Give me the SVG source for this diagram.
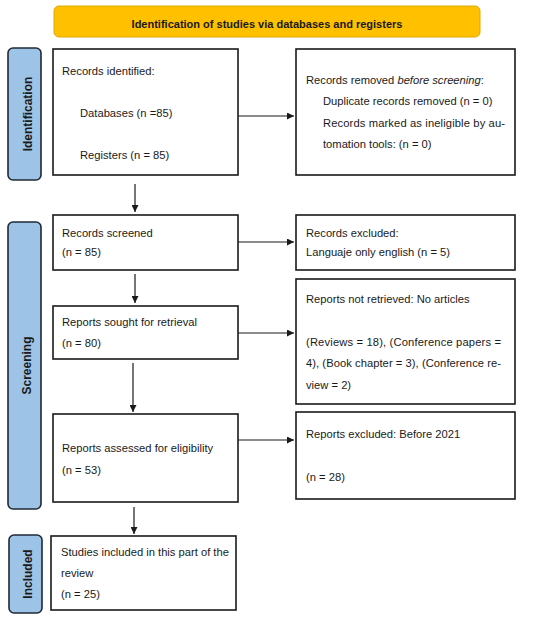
<svg xmlns="http://www.w3.org/2000/svg" width="550" height="620" viewBox="0 0 550 620">
<defs>
<style>
.box{fill:#fff;stroke:#1a1a1a;stroke-width:1.6}
.side{fill:#9DC3E6;stroke:#1f2a36;stroke-width:1.6}
.t{font-family:"Liberation Sans",Arial,sans-serif;font-size:11.2px;fill:#1a1a1a}
.b{font-family:"Liberation Sans",Arial,sans-serif;font-size:11px;font-weight:bold;fill:#1a1a1a}
.s{font-family:"Liberation Sans",Arial,sans-serif;font-size:12px;font-weight:bold;fill:#1a1a1a}
.c{stroke:#1a1a1a;stroke-width:1.2;fill:none;marker-end:url(#ah)}
</style>
<marker id="ah" viewBox="0 0 10 10" refX="10" refY="5" markerWidth="7" markerHeight="7" markerUnits="userSpaceOnUse" orient="auto">
<path d="M0,0 L10,5 L0,10 z" fill="#1a1a1a"/>
</marker>
</defs>
<rect width="550" height="620" fill="#fff"/>

<g id="banner">
<rect x="54" y="6" width="426" height="31" rx="5" fill="#FFC000" stroke="#E0A800" stroke-width="1"/>
<text class="b" x="267" y="28" text-anchor="middle">Identification of studies via databases and registers</text>
</g>

<g id="side-identification">
<rect class="side" x="8" y="48" width="33" height="132" rx="5"/>
<text class="s" transform="translate(31.5,114) rotate(-90)" text-anchor="middle">Identification</text>
</g>
<g id="side-screening">
<rect class="side" x="8" y="222" width="33" height="287" rx="5"/>
<text class="s" transform="translate(30.5,365.5) rotate(-90)" text-anchor="middle">Screening</text>
</g>
<g id="side-included">
<rect class="side" x="9" y="535" width="33" height="78" rx="5"/>
<text class="s" transform="translate(31.5,574) rotate(-90)" text-anchor="middle">Included</text>
</g>

<g id="records-identified">
<rect class="box" x="53" y="49" width="185" height="126"/>
<text class="t" x="62" y="75">Records identified:</text>
<text class="t" x="80" y="117">Databases (n =85)</text>
<text class="t" x="80" y="159">Registers (n = 85)</text>
</g>

<g id="records-removed">
<rect class="box" x="296" y="49" width="219" height="126"/>
<text class="t" x="306" y="84">Records removed <tspan font-style="italic">before screening</tspan>:</text>
<text class="t" x="323" y="105">Duplicate records removed (n = 0)</text>
<text class="t" x="323" y="127" textLength="182" lengthAdjust="spacing">Records marked as ineligible by au-</text>
<text class="t" x="323" y="148">tomation tools: (n = 0)</text>
</g>

<g id="records-screened">
<rect class="box" x="53" y="215" width="185" height="55"/>
<text class="t" x="62" y="237">Records screened</text>
<text class="t" x="62" y="256">(n = 85)</text>
</g>

<g id="records-excluded">
<rect class="box" x="296" y="215" width="219" height="55"/>
<text class="t" x="306" y="237">Records excluded:</text>
<text class="t" x="306" y="256">Languaje only english (n = 5)</text>
</g>

<g id="reports-sought">
<rect class="box" x="53" y="306" width="185" height="53"/>
<text class="t" x="62" y="326">Reports sought for retrieval</text>
<text class="t" x="62" y="347">(n = 80)</text>
</g>

<g id="reports-not-retrieved">
<rect class="box" x="296" y="279" width="219" height="125"/>
<text class="t" x="306" y="303">Reports not retrieved: No articles</text>
<text class="t" x="306" y="346" textLength="195" lengthAdjust="spacing">(Reviews = 18), (Conference papers =</text>
<text class="t" x="306" y="367" textLength="195" lengthAdjust="spacing">4), (Book chapter = 3), (Conference re-</text>
<text class="t" x="306" y="389">view = 2)</text>
</g>

<g id="reports-assessed">
<rect class="box" x="53" y="414" width="185" height="88"/>
<text class="t" x="62" y="452">Reports assessed for eligibility</text>
<text class="t" x="62" y="474">(n = 53)</text>
</g>

<g id="reports-excluded">
<rect class="box" x="296" y="412" width="219" height="87"/>
<text class="t" x="306" y="438">Reports excluded: Before 2021</text>
<text class="t" x="306" y="481">(n = 28)</text>
</g>

<g id="studies-included">
<rect class="box" x="51" y="536" width="185" height="74"/>
<text class="t" x="61" y="556">Studies included in this part of the</text>
<text class="t" x="61" y="577">review</text>
<text class="t" x="61" y="598">(n = 25)</text>
</g>

<g id="connectors">
<line class="c" x1="238" y1="116" x2="294" y2="116"/>
<line class="c" x1="135" y1="184" x2="135" y2="212"/>
<line class="c" x1="238" y1="242" x2="294" y2="242"/>
<line class="c" x1="135" y1="274" x2="135" y2="303"/>
<line class="c" x1="238" y1="333" x2="294" y2="333"/>
<line class="c" x1="133" y1="363" x2="133" y2="412"/>
<line class="c" x1="238" y1="440" x2="294" y2="440"/>
<line class="c" x1="134" y1="507" x2="134" y2="534"/>
</g>
</svg>
